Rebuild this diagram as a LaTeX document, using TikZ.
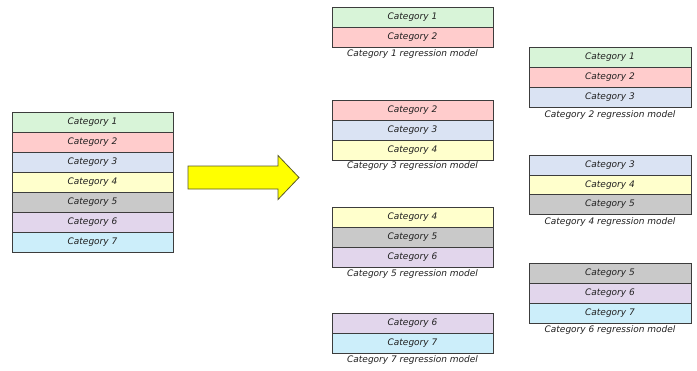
\documentclass[tikz,border=0pt]{standalone}
\usepackage{fontspec}
\newfontfamily\catfont{DejaVu Sans}
\definecolor{cA}{HTML}{D8F4D8}
\definecolor{cB}{HTML}{FFCCCC}
\definecolor{cC}{HTML}{DAE3F3}
\definecolor{cD}{HTML}{FFFFCC}
\definecolor{cE}{HTML}{C9C9C9}
\definecolor{cF}{HTML}{E2D6EC}
\definecolor{cG}{HTML}{CCEEFA}
\definecolor{bordercol}{HTML}{3C3C3C}
\definecolor{txtcol}{HTML}{202020}
\definecolor{arrowfill}{HTML}{FFFF00}
\definecolor{arrowline}{HTML}{5A5A2A}
\tikzset{
  catbox/.style={draw=bordercol, line width=0.9pt, minimum height=20pt, inner sep=0pt,
    font=\catfont\itshape\fontsize{9}{10}\selectfont, text=txtcol},
  lcol/.style={catbox, minimum width=161pt},
  mcol/.style={catbox, minimum width=161pt},
  rcol/.style={catbox, minimum width=162pt},
  captxt/.style={inner sep=0pt, font=\catfont\itshape\fontsize{9}{10}\selectfont, text=txtcol},
  bigarrow/.style={draw=arrowline, fill=arrowfill, line width=0.8pt, line join=miter}
}
\begin{document}
\begin{tikzpicture}[x=1pt,y=-1pt]
\useasboundingbox (0,0) rectangle (697,370);
% left stack
\node[lcol, fill=cA] (l1) at (92.5,122) {Category 1};
\node[lcol, fill=cB] (l2) at (92.5,142) {Category 2};
\node[lcol, fill=cC] (l3) at (92.5,162) {Category 3};
\node[lcol, fill=cD] (l4) at (92.5,182) {Category 4};
\node[lcol, fill=cE] (l5) at (92.5,202) {Category 5};
\node[lcol, fill=cF] (l6) at (92.5,222) {Category 6};
\node[lcol, fill=cG] (l7) at (92.5,242) {Category 7};
% big arrow
\coordinate (a1) at (188,166);
\coordinate (a2) at (278,166);
\coordinate (a3) at (278,155.5);
\coordinate (a4) at (299,177.5);
\coordinate (a5) at (278,199.5);
\coordinate (a6) at (278,189);
\coordinate (a7) at (188,189);
\draw[bigarrow] (a1) -- (a2) -- (a3) -- (a4) -- (a5) -- (a6) -- (a7) -- cycle;
% middle column
\node[mcol, fill=cA] (m11) at (412.5,17) {Category 1};
\node[mcol, fill=cB] (m12) at (412.5,37) {Category 2};
\node[captxt] (mc1) at (412.5,54.5) {Category 1 regression model};
\node[mcol, fill=cB] (m21) at (412.5,110) {Category 2};
\node[mcol, fill=cC] (m22) at (412.5,130) {Category 3};
\node[mcol, fill=cD] (m23) at (412.5,150) {Category 4};
\node[captxt] (mc2) at (412.5,166.5) {Category 3 regression model};
\node[mcol, fill=cD] (m31) at (412.5,217) {Category 4};
\node[mcol, fill=cE] (m32) at (412.5,237) {Category 5};
\node[mcol, fill=cF] (m33) at (412.5,257) {Category 6};
\node[captxt] (mc3) at (412.5,274.5) {Category 5 regression model};
\node[mcol, fill=cF] (m41) at (412.5,323) {Category 6};
\node[mcol, fill=cG] (m42) at (412.5,343) {Category 7};
\node[captxt] (mc4) at (412.5,360.5) {Category 7 regression model};
% right column
\node[rcol, fill=cA] (r11) at (610,57) {Category 1};
\node[rcol, fill=cB] (r12) at (610,77) {Category 2};
\node[rcol, fill=cC] (r13) at (610,97) {Category 3};
\node[captxt] (rc1) at (610,115) {Category 2 regression model};
\node[rcol, fill=cC] (r21) at (610,165) {Category 3};
\node[rcol, fill=cD] (r22) at (610,185) {Category 4};
\node[rcol, fill=cE] (r23) at (610,204.5) {Category 5};
\node[captxt] (rc2) at (610,222) {Category 4 regression model};
\node[rcol, fill=cE] (r31) at (610,273) {Category 5};
\node[rcol, fill=cF] (r32) at (610,293) {Category 6};
\node[rcol, fill=cG] (r33) at (610,313) {Category 7};
\node[captxt] (rc3) at (610,330.5) {Category 6 regression model};
\end{tikzpicture}
\end{document}
